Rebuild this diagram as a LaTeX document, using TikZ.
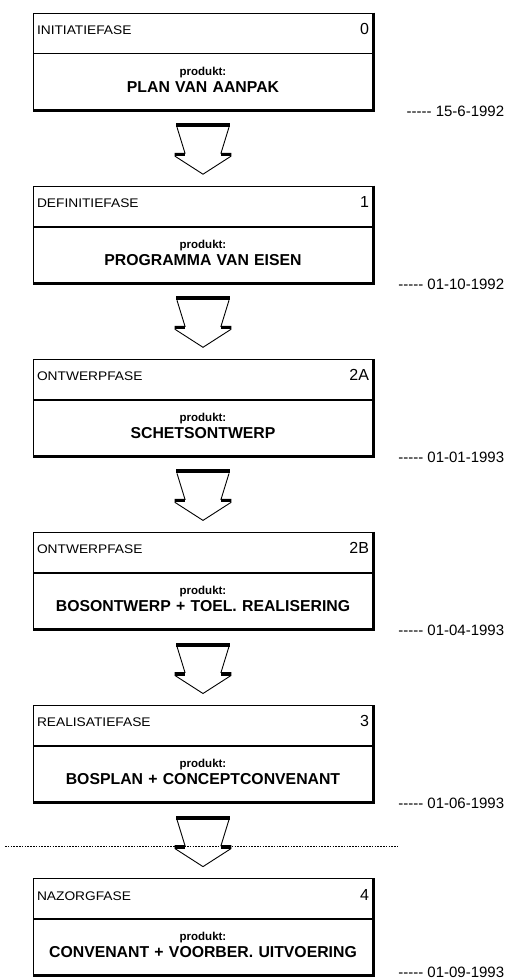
\documentclass[tikz,border=0pt]{standalone}
\usepackage{fontspec}
\setmainfont{Liberation Sans}
\newfontfamily\widefont[FakeStretch=1.1]{Liberation Sans}
\usetikzlibrary{positioning,calc}
\def\Leader{-{}-{}-{}-{}-}
\def\Prod{{\fontsize{11.5}{12}\selectfont produkt:}}
\def\phasefill{\hskip 0pt plus 1filll}
\newcommand{\PhaseNr}[1]{\phasefill{\rmfamily\fontsize{16}{16}\selectfont #1}}
\newcommand{\PhaseArrow}[1]{% block arrow hanging under product box #1
  \begin{scope}[shift={(#1.south)}]
    \draw[arrowline] (-26,17) -- (-18,43) -- (-28,43) -- (-28,46) -- (0,64)
      -- (28,46) -- (28,43) -- (18,43) -- (26,17);
    \fill (-27,13) rectangle (27,17);
    \fill (-28,43) rectangle (-18,46);
    \fill (18,43) rectangle (28,46);
  \end{scope}}

\begin{document}
\begin{tikzpicture}[x=1pt,y=-1pt,% y runs downwards, 1pt = 1 pixel
    phase/.style={
      draw,line width=.8pt,
      minimum width=340pt,minimum height=40pt,
      text width=332pt,inner xsep=4pt,align=left,
      text height=12pt,text depth=9pt, % baseline just under the middle
      font=\widefont\fontsize{12.5}{14}\selectfont
    },
    product/.style={
      draw,line width=.8pt,
      minimum width=340pt,minimum height=56pt,
      text width=332pt,inner xsep=4pt,align=center,
      text depth=21.5pt, % lifts the two lines above the middle
      font=\bfseries\fontsize{15.8}{17}\selectfont
    },
    boxedge/.style={line width=3pt},   % heavy right and bottom edge
    arrowline/.style={line width=.9pt,line join=miter},
    datum/.style={font=\fontsize{15}{16}\selectfont,inner sep=0pt},
    sepline/.style={line width=.7pt,dash pattern=on 1.6pt off 1.2pt}
  ]
  \useasboundingbox (0,0) rectangle (505,980);

  % phase 0
  \node[phase](h0) at (203,33){INITIATIEFASE\PhaseNr{0}};
  \node[product](p0)[below=0pt of h0]{\Prod\\PLAN VAN AANPAK};
  % phase 1
  \node[phase](h1)[below=75.5pt of p0]{DEFINITIEFASE\PhaseNr{1}};
  \node[product](p1)[below=0pt of h1]{\Prod\\PROGRAMMA VAN EISEN};
  % phase 2A
  \node[phase](h2)[below=75.5pt of p1]{ONTWERPFASE\PhaseNr{2A}};
  \node[product](p2)[below=0pt of h2]{\Prod\\SCHETSONTWERP};
  % phase 2B
  \node[phase](h3)[below=75.5pt of p2]{ONTWERPFASE\PhaseNr{2B}};
  \node[product](p3)[below=0pt of h3]{\Prod\\BOSONTWERP + TOEL. REALISERING};
  % phase 3
  \node[phase](h4)[below=75.5pt of p3]{REALISATIEFASE\PhaseNr{3}};
  \node[product](p4)[below=0pt of h4]{\Prod\\BOSPLAN + CONCEPTCONVENANT};
  % phase 4
  \node[phase](h5)[below=75.5pt of p4]{NAZORGFASE\PhaseNr{4}};
  \node[product](p5)[below=0pt of h5]{\Prod\\CONVENANT + VOORBER. UITVOERING};

  \foreach \n in {0,...,5}
    \draw[boxedge] (h\n.north east) -- (p\n.south east) -- (p\n.south west);

  % dates
  \node[datum,anchor=east](d0) at ($(p0.south east)+(131,1)$){\Leader\ 15-6-1992};
  \node[datum,anchor=east](d1) at ($(p1.south east)+(131,1)$){\Leader\ 01-10-1992};
  \node[datum,anchor=east](d2) at ($(p2.south east)+(131,1)$){\Leader\ 01-01-1993};
  \node[datum,anchor=east](d3) at ($(p3.south east)+(131,1)$){\Leader\ 01-04-1993};
  \node[datum,anchor=east](d4) at ($(p4.south east)+(131,1)$){\Leader\ 01-06-1993};
  \node[datum,anchor=east](d5) at ($(p5.south east)+(131,-3)$){\Leader\ 01-09-1993};

  % arrows between the phases
  \PhaseArrow{p0}
  \PhaseArrow{p1}
  \PhaseArrow{p2}
  \PhaseArrow{p3}
  \PhaseArrow{p4}

  % separator before the last phase
  \coordinate (sepL) at (5,846);
  \coordinate (sepR) at (398,846);
  \draw[sepline] (sepL) -- (sepR);
\end{tikzpicture}
\end{document}
